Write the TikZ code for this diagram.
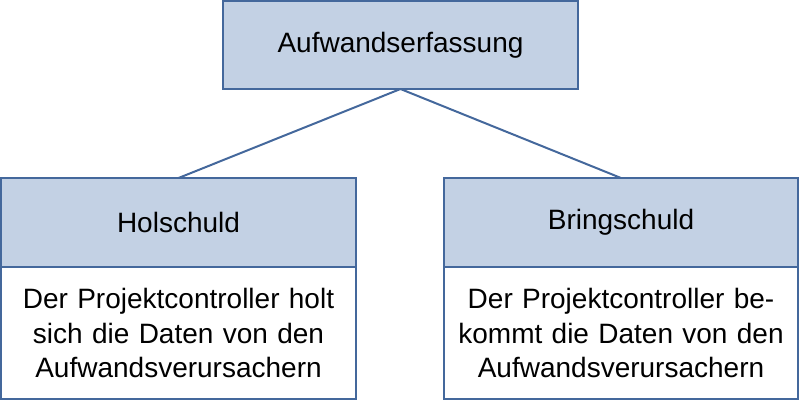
\documentclass[tikz,border=0pt]{standalone}
\usepackage{fontspec}
\setmainfont{Liberation Sans}
\definecolor{boxfill}{HTML}{C3D1E4}
\definecolor{boxline}{HTML}{44689C}
\begin{document}
\begin{tikzpicture}[x=1pt,y=-1pt,
  headbox/.style={draw=boxline, line width=1.5pt, fill=boxfill, rectangle, inner sep=0pt, outer sep=0pt,
    font=\fontsize{28}{34.5}\selectfont, text=black},
  bodybox/.style={draw=boxline, line width=1.5pt, fill=white, rectangle, inner sep=0pt, outer sep=0pt,
    font=\fontsize{28}{34.5}\selectfont, text=black, align=center, text width=340pt},
  conn/.style={draw=boxline, line width=2pt}]
\useasboundingbox (0,0) rectangle (800,400);
\node[headbox, minimum width=355pt, minimum height=88pt] (top) at (400.5,45) {Aufwandserfassung};
\node[headbox, minimum width=355pt, minimum height=89pt] (lh) at (178.5,222.5) {Holschuld};
\node[bodybox, minimum width=355pt, minimum height=132pt] (lb) at (178.5,333) {Der Projektcontroller holt\\sich die Daten von den\\Aufwandsverursachern};
\node[headbox, minimum width=354pt, minimum height=89pt] (rh) at (621,222.5) {Bringschuld};
\node[bodybox, minimum width=354pt, minimum height=132pt] (rb) at (621,333) {Der Projektcontroller be-\\kommt die Daten von den\\Aufwandsverursachern};
\draw[conn] (top.south) -- (lh.north);
\draw[conn] (top.south) -- (rh.north);
\end{tikzpicture}
\end{document}
